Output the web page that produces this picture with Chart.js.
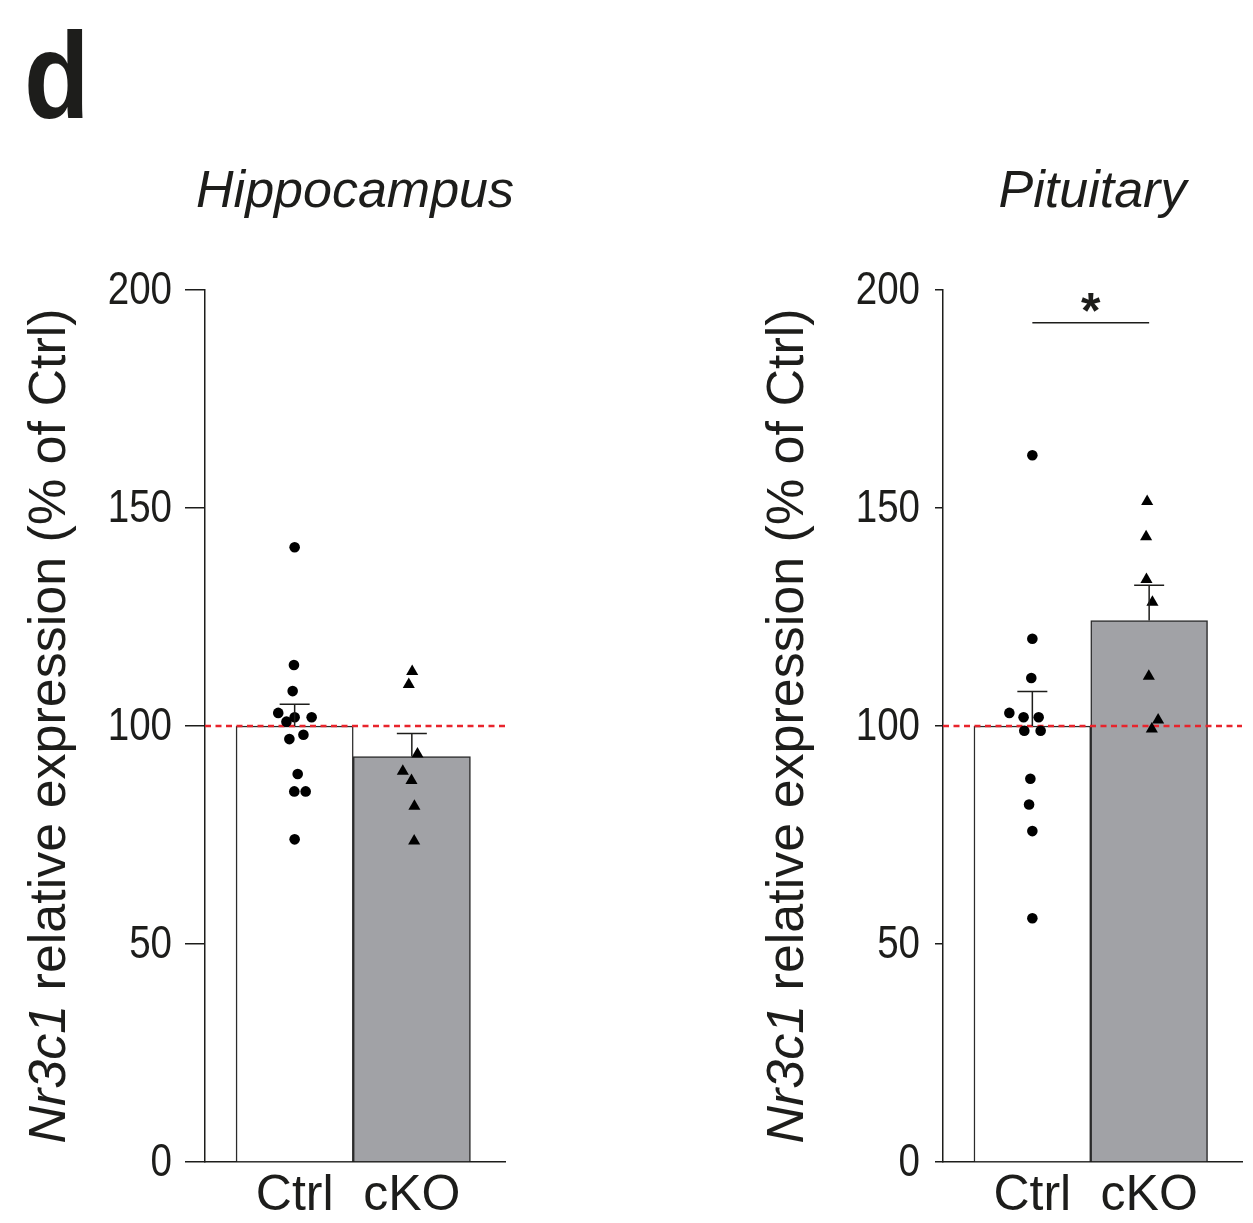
<!DOCTYPE html>
<html>
<head>
<meta charset="utf-8">
<script src="https://cdn.jsdelivr.net/npm/chart.js@4.4.1/dist/chart.umd.min.js"></script>
<style>
  html, body { margin: 0; padding: 0; background: #fff; }
  body { width: 1253px; height: 1223px; position: relative; overflow: hidden; }
  canvas { position: absolute; top: 0; }
  #c1 { left: 0; }
  #c2 { left: 700px; }
</style>
</head>
<body>
<canvas id="c1" width="620" height="1223"></canvas>
<canvas id="c2" width="553" height="1223"></canvas>
<script>
// ---------- DATA ----------
const groups = ['Ctrl', 'cKO'];
const yTicks = [0, 50, 100, 150, 200];

// Hippocampus
const hippoMeans = [100, 93];
const hippoSem = [5, 5.3];
const hippoCtrlVals   = [141, 114, 108, 103, 102, 102, 101, 98, 97, 89, 85, 85, 74];
const hippoCtrlJitter = [0, -0.006, -0.017, -0.14, 0, 0.145, -0.07, 0.075, -0.045, 0.026, -0.003, 0.094, 0];
const hippoCkoVals    = [112.5, 109.5, 93.6, 89.6, 87.5, 81.6, 73.6];
const hippoCkoJitter  = [0.003, -0.026, 0.048, -0.077, -0.003, 0.022, 0.02];

// Pituitary
const pitMeans = [100, 124.2];
const pitSem = [7.9, 8.1];
const pitCtrlVals   = [162.1, 120, 111, 103, 102, 102, 98.9, 98.9, 87.9, 82, 75.9, 55.9];
const pitCtrlJitter = [0, 0, -0.009, -0.197, -0.075, 0.054, -0.069, 0.071, -0.017, -0.028, 0, 0];
const pitCkoVals    = [151.5, 143.4, 133.6, 128.4, 111.4, 101.4, 99.3];
const pitCkoJitter  = [-0.017, -0.026, -0.023, 0.028, -0.003, 0.077, 0.023];
const pitSignif = { from: 1, to: 2, y: 192.5, label: '*' };

const refLine = 100;
const xMin = 0.235, xMax = 2.795;

// ---------- STYLE ----------
const LABEL_FONT = { family: "'Liberation Sans', Arial, sans-serif", size: 50 };
const TXT = '#1d1d1b';

function pts(vals, jit, groupIdx) {
  return vals.map((v, i) => ({ x: groupIdx + 1 + jit[i], y: v }));
}

function makeChart(canvasId, cfg) {
  const extras = {
    id: 'extras',
    afterDatasetsDraw(chart) {
      const ctx = chart.ctx;
      const xs = chart.scales.x, ys = chart.scales.y;
      ctx.save();
      ctx.strokeStyle = '#1d1d1b';
      ctx.lineWidth = 1.5;
      cfg.means.forEach((m, i) => {
        const x = xs.getPixelForValue(i + 1);
        const y0 = ys.getPixelForValue(m);
        const y1 = ys.getPixelForValue(m + cfg.sem[i]);
        ctx.beginPath();
        ctx.moveTo(x, y0); ctx.lineTo(x, y1);
        ctx.moveTo(x - 15, y1); ctx.lineTo(x + 15, y1);
        ctx.stroke();
      });
      if (cfg.signif) {
        const s = cfg.signif;
        const xa = xs.getPixelForValue(s.from), xb = xs.getPixelForValue(s.to);
        const y = ys.getPixelForValue(s.y);
        ctx.beginPath();
        ctx.moveTo(xa, y); ctx.lineTo(xb, y);
        ctx.stroke();
        ctx.fillStyle = TXT;
        ctx.font = "bold 50px 'Liberation Sans', Arial, sans-serif";
        ctx.textAlign = 'center';
        ctx.textBaseline = 'alphabetic';
        ctx.fillText(s.label, (xa + xb) / 2, y + 5);
      }
      ctx.restore();
    },
    afterDraw(chart) {
      const ctx = chart.ctx;
      const ca = chart.chartArea;
      const ys = chart.scales.y;
      ctx.save();
      ctx.fillStyle = TXT;
      // condensed y tick labels, placed from the y scale's ticks
      ctx.font = "47px 'Liberation Sans', Arial, sans-serif";
      ctx.textAlign = 'right';
      ctx.textBaseline = 'middle';
      const lx = ca.left - cfg.tickLen - cfg.tickPad;
      ys.ticks.forEach(t => {
        const py = ys.getPixelForValue(t.value);
        ctx.save();
        ctx.translate(lx, py + 1);
        ctx.scale(0.82, 1);
        ctx.fillText(String(t.value), 0, 0);
        ctx.restore();
      });
      // panel title
      ctx.font = "italic 52px 'Liberation Sans', Arial, sans-serif";
      ctx.textAlign = 'center';
      ctx.textBaseline = 'alphabetic';
      ctx.fillText(cfg.title, (ca.left + ca.right) / 2, 207);
      // panel letter
      if (cfg.letter) {
        ctx.save();
        ctx.font = "bold 122px 'Liberation Sans', Arial, sans-serif";
        ctx.textAlign = 'left';
        ctx.translate(24, 118);
        ctx.scale(0.88, 1);
        ctx.fillText(cfg.letter, 0, 0);
        ctx.restore();
      }
      // y title with mixed italic
      const parts = [
        { t: 'Nr3c1', f: "italic 52px 'Liberation Sans', Arial, sans-serif" },
        { t: ' relative expression (% of Ctrl)', f: "52px 'Liberation Sans', Arial, sans-serif" }
      ];
      let total = 0;
      parts.forEach(p => { ctx.font = p.f; p.w = ctx.measureText(p.t).width; total += p.w; });
      ctx.translate(ca.left - 140, (ca.top + ca.bottom) / 2);
      ctx.rotate(-Math.PI / 2);
      ctx.textAlign = 'left';
      let x = -total / 2;
      parts.forEach(p => { ctx.font = p.f; ctx.fillText(p.t, x, 0); x += p.w; });
      ctx.restore();
    }
  };

  return new Chart(document.getElementById(canvasId), {
    type: 'bar',
    data: {
      datasets: [
        {
          type: 'scatter', order: 0,
          data: pts(cfg.ctrlVals, cfg.ctrlJit, 0),
          pointStyle: 'circle', pointRadius: 5.3, pointBorderWidth: 0,
          backgroundColor: '#000', borderColor: '#000'
        },
        {
          type: 'scatter', order: 0,
          data: pts(cfg.ckoVals, cfg.ckoJit, 1),
          pointStyle: 'triangle', pointRadius: 7, pointBorderWidth: 0,
          backgroundColor: '#000', borderColor: '#000'
        },
        {
          type: 'line', order: 1,
          data: [{ x: xMin, y: refLine }, { x: xMax, y: refLine }],
          borderColor: '#e8242c', borderWidth: 2.6, borderDash: [6, 4.5],
          pointRadius: 0, fill: false
        },
        {
          type: 'bar', order: 2,
          data: cfg.means.map((m, i) => ({ x: i + 1, y: m })),
          backgroundColor: ['#ffffff', '#a1a2a6'],
          borderColor: '#2b2b2b', borderWidth: 1.5,
          barPercentage: 1, categoryPercentage: 1, borderSkipped: 'bottom'
        }
      ]
    },
    options: {
      responsive: false,
      animation: false,
      devicePixelRatio: 1,
      events: [],
      layout: { padding: { top: 290, right: cfg.padRight, bottom: 0, left: 0 } },
      plugins: { legend: { display: false }, tooltip: { enabled: false } },
      scales: {
        x: {
          type: 'linear', min: xMin, max: xMax, offset: false,
          afterFit(s) { s.height = 61; },
          afterBuildTicks(s) { s.ticks = groups.map((g, i) => ({ value: i + 1 })); },
          grid: { display: true, drawOnChartArea: false, drawTicks: false },
          border: { display: true, color: '#1d1d1b', width: 1.5 },
          ticks: {
            color: TXT, font: LABEL_FONT, padding: 4, maxRotation: 0, autoSkip: false,
            callback: (v) => groups[Math.round(v) - 1] || ''
          }
        },
        y: {
          min: 0, max: 200,
          afterFit(s) { s.width = cfg.yWidth; },
          afterBuildTicks(s) { s.ticks = yTicks.map(v => ({ value: v })); },
          grid: { display: true, drawOnChartArea: false, drawTicks: true, tickLength: cfg.tickLen, color: '#1d1d1b', lineWidth: 1.5 },
          border: { display: true, color: '#1d1d1b', width: 1.5 },
          ticks: { display: false }
        }
      }
    },
    plugins: [extras]
  });
}

makeChart('c1', {
  title: 'Hippocampus', letter: 'd',
  means: hippoMeans, sem: hippoSem,
  ctrlVals: hippoCtrlVals, ctrlJit: hippoCtrlJitter,
  ckoVals: hippoCkoVals, ckoJit: hippoCkoJitter,
  yWidth: 205, padRight: 115, tickLen: 20, tickPad: 13
});
makeChart('c2', {
  title: 'Pituitary', letter: null,
  means: pitMeans, sem: pitSem,
  ctrlVals: pitCtrlVals, ctrlJit: pitCtrlJitter,
  ckoVals: pitCkoVals, ckoJit: pitCkoJitter,
  signif: pitSignif,
  yWidth: 243, padRight: 11, tickLen: 8, tickPad: 15
});
</script>
</body>
</html>
